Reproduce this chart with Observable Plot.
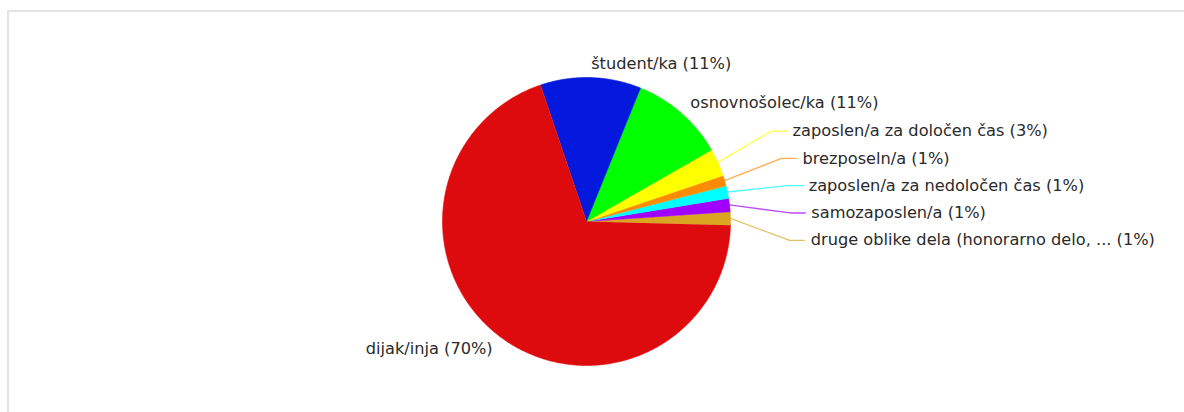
<!DOCTYPE html>
<html><head><meta charset="utf-8">
<script src="https://cdn.jsdelivr.net/npm/d3@7"></script>
<script src="https://cdn.jsdelivr.net/npm/@observablehq/plot@0.6"></script>
<style>
body{margin:0;background:#fff;}
#frame{position:absolute;left:7px;top:10px;right:-10px;bottom:-10px;border:2px solid #e3e3e3;}
#chart{position:absolute;left:0;top:0;}
</style>
</head><body><div id="frame"></div><div id="chart"></div>
<script>
const categories = ["dijak/inja","študent/ka","osnovnošolec/ka","zaposlen/a za določen čas","brezposeln/a","zaposlen/a za nedoločen čas","samozaposlen/a","druge oblike dela (honorarno delo, ..."];
const values = [69.4, 11.3, 10.6, 3.1, 1.2, 1.4, 1.5, 1.5];
const percentLabels = ["70%","11%","11%","3%","1%","1%","1%","1%"];
const colors = ["#de0b0e","#0519de","#00ff00","#ffff00","#ff8c00","#00ffff","#a000ff","#daa520"];

const W = 1184, H = 412, cx = 586, cy = 221, r = 144;
const startAngle = -1.5;
const rad = d => d * Math.PI / 180;
const total = d3.sum(values);

// slices drawn counter-clockwise from startAngle, last category first
const slices = [];
let a = startAngle;
for (let i = categories.length - 1; i >= 0; i--) {
  const sweep = values[i] / total * 360;
  slices.push({i, a0: a, a1: a + sweep, mid: a + sweep / 2});
  a += sweep;
}
const arcPts = [];
for (const s of slices) {
  arcPts.push({k: s.i, x: 0, y: 0});
  const n = Math.max(2, Math.ceil((s.a1 - s.a0) / 0.5));
  for (let j = 0; j <= n; j++) {
    const t = rad(s.a0 + (s.a1 - s.a0) * j / n);
    arcPts.push({k: s.i, x: r * Math.cos(t), y: r * Math.sin(t)});
  }
}

// labels
const bigLabels = [], smallLabels = [];
for (const s of slices) {
  const text = `${categories[s.i]} (${percentLabels[s.i]})`;
  const m = rad(s.mid);
  if (values[s.i] >= 5) {
    bigLabels.push({text, x: 158 * Math.cos(m), y: 158 * Math.sin(m), right: Math.cos(m) >= 0});
  } else {
    smallLabels.push({k: s.i, text, m, ny: 173 * Math.sin(m)});
  }
}
smallLabels.sort((p, q) => q.ny - p.ny);
const meanY = d3.mean(smallLabels, d => d.ny), gap = 27.3;
smallLabels.forEach((d, j) => {
  d.y = meanY + (((smallLabels.length - 1) / 2) - j) * gap;
  d.x = Math.sqrt(225 * 225 - d.y * d.y);
});
const leaders = [];
for (const d of smallLabels) {
  leaders.push({k: d.k, x: r * Math.cos(d.m), y: r * Math.sin(d.m)});
  leaders.push({k: d.k, x: d.x - 21, y: d.y});
  leaders.push({k: d.k, x: d.x - 6, y: d.y});
}

const font = {fontFamily: "DejaVu Sans, Verdana, sans-serif", fontSize: 16.2, fill: "#2a2a2a"};
const chart = Plot.plot({
  width: W, height: H, margin: 0,
  x: {domain: [-cx, W - cx], range: [0, W], axis: null},
  y: {domain: [-(H - cy), cy], range: [H, 0], axis: null},
  style: {background: "transparent", overflow: "visible"},
  marks: [
    ...slices.map(s => Plot.line(arcPts.filter(p => p.k === s.i), {x: "x", y: "y", fill: colors[s.i], stroke: colors[s.i], strokeWidth: 0.6, curve: "linear"})),
    ...smallLabels.map(d => Plot.line(leaders.filter(p => p.k === d.k), {x: "x", y: "y", stroke: colors[d.k], strokeWidth: 1.3, strokeOpacity: 0.7})),
    Plot.text(bigLabels.filter(d => d.right), {x: "x", y: "y", text: "text", textAnchor: "start", ...font}),
    Plot.text(bigLabels.filter(d => !d.right), {x: "x", y: "y", text: "text", textAnchor: "end", ...font}),
    Plot.text(smallLabels, {x: "x", y: "y", text: "text", textAnchor: "start", ...font})
  ]
});
document.getElementById("chart").appendChild(chart);
</script>
</body></html>
